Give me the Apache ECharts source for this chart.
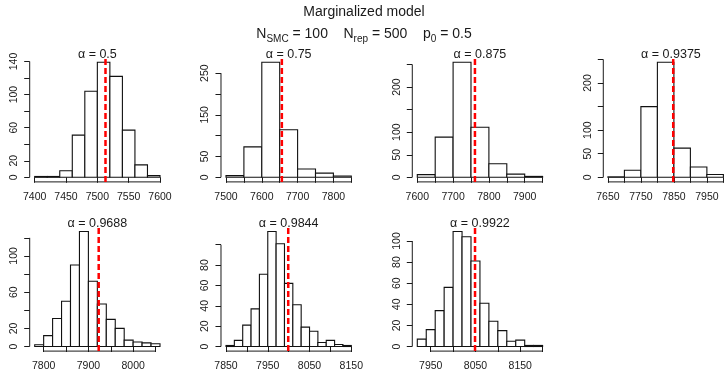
<!DOCTYPE html>
<html><head><meta charset="utf-8">
<script src="https://cdn.jsdelivr.net/npm/echarts@6/dist/echarts.min.js"></script>
<style>html,body{margin:0;padding:0;background:#fff}#c{width:728px;height:380px}</style>
</head><body><div id="c"></div>
<script>
// ---- data ----
const alphas = ['0.5', '0.75', '0.875', '0.9375', '0.9688', '0.9844', '0.9922'];
const means = [7513, 7656, 7761, 7848, 7923, 7999, 8049];

const breaks1 = [7400, 7420, 7440, 7460, 7480, 7500, 7520, 7540, 7560, 7580, 7600];
const counts1 = [1, 1, 8, 51, 104, 139, 122, 57, 15, 2];
const breaks2 = [7500, 7550, 7600, 7650, 7700, 7750, 7800, 7850];
const counts2 = [4, 73, 276, 114, 20, 10, 3];
const breaks3 = [7600, 7650, 7700, 7750, 7800, 7850, 7900, 7950];
const counts3 = [6, 89, 255, 111, 30, 7, 2];
const breaks4 = [7650, 7700, 7750, 7800, 7850, 7900, 7950, 8000];
const counts4 = [1, 15, 150, 244, 62, 22, 6];
const breaks5 = [7780, 7800, 7820, 7840, 7860, 7880, 7900, 7920, 7940, 7960, 7980, 8000, 8020, 8040, 8060];
const counts5 = [2, 12, 31, 50, 90, 127, 72, 47, 30, 20, 7, 5, 4, 3];
const breaks6 = [7850, 7870, 7890, 7910, 7930, 7950, 7970, 7990, 8010, 8030, 8050, 8070, 8090, 8110, 8130, 8150];
const counts6 = [1, 6, 21, 37, 71, 113, 101, 62, 41, 19, 15, 4, 6, 2, 1];
const breaks7 = [7920, 7940, 7960, 7980, 8000, 8020, 8040, 8060, 8080, 8100, 8120, 8140, 8160, 8180, 8200];
const counts7 = [7, 16, 34, 56, 109, 104, 81, 41, 24, 15, 5, 6, 1, 1];

const xTicks1 = [7400, 7450, 7500, 7550, 7600];
const xLabels1 = [7400, 7450, 7500, 7550, 7600];
const xTicks2 = [7500, 7550, 7600, 7650, 7700, 7750, 7800, 7850];
const xLabels2 = [7500, 7600, 7700, 7800];
const xTicks3 = [7600, 7650, 7700, 7750, 7800, 7850, 7900, 7950];
const xLabels3 = [7600, 7700, 7800, 7900];
const xTicks4 = [7650, 7700, 7750, 7800, 7850, 7900, 7950, 8000];
const xLabels4 = [7650, 7750, 7850, 7950];
const xTicks5 = [7800, 7850, 7900, 7950, 8000, 8050];
const xLabels5 = [7800, 7900, 8000];
const xTicks6 = [7850, 7900, 7950, 8000, 8050, 8100, 8150];
const xLabels6 = [7850, 7950, 8050, 8150];
const xTicks7 = [7950, 8000, 8050, 8100, 8150, 8200];
const xLabels7 = [7950, 8050, 8150];

const yTicks1 = [0, 20, 40, 60, 80, 100, 120, 140];
const yLabels1 = [0, 20, 60, 100, 140];
const yTicks2 = [0, 50, 100, 150, 200, 250];
const yLabels2 = [0, 50, 150, 250];
const yTicks3 = [0, 50, 100, 150, 200, 250];
const yLabels3 = [0, 50, 100, 200];
const yTicks4 = [0, 50, 100, 150, 200, 250];
const yLabels4 = [0, 50, 100, 200];
const yTicks5 = [0, 20, 40, 60, 80, 100, 120];
const yLabels5 = [0, 20, 60, 100];
const yTicks6 = [0, 20, 40, 60, 80, 100];
const yLabels6 = [0, 20, 40, 60, 80];
const yTicks7 = [0, 20, 40, 60, 80, 100];
const yLabels7 = [0, 20, 40, 60, 80, 100];

// ---- layout ----
const panels = [
  [breaks1, counts1, xTicks1, xLabels1, yTicks1, yLabels1],
  [breaks2, counts2, xTicks2, xLabels2, yTicks2, yLabels2],
  [breaks3, counts3, xTicks3, xLabels3, yTicks3, yLabels3],
  [breaks4, counts4, xTicks4, xLabels4, yTicks4, yLabels4],
  [breaks5, counts5, xTicks5, xLabels5, yTicks5, yLabels5],
  [breaks6, counts6, xTicks6, xLabels6, yTicks6, yLabels6],
  [breaks7, counts7, xTicks7, xLabels7, yTicks7, yLabels7]
];
const FONT = '"Liberation Sans", Arial, sans-serif';
const INK = '#1a1a1a';
const colDataLeft = [34.7, 226, 417.3, 608.3];
const dataW = 125.3;
const rowY0 = [177.3, 346.5];
const dataH = 115;
const PAD = 0.04;

const grids = [], xAxes = [], yAxes = [], series = [], graphics = [];

panels.forEach((p, i) => {
  const [breaks, counts, xT, xL, yT, yL] = p;
  const r = i < 4 ? 0 : 1, c = i < 4 ? i : i - 4;
  const gl = colDataLeft[c] - PAD * dataW, gw = dataW * (1 + 2 * PAD);
  const gt = rowY0[r] - dataH - PAD * dataH, gh = dataH * (1 + 2 * PAD);
  grids.push({left: gl, top: gt, width: gw, height: gh});
  const b0 = breaks[0], bN = breaks[breaks.length - 1], rng = bN - b0;
  const xMin = b0 - PAD * rng, xMax = bN + PAD * rng;
  const cMax = Math.max(...counts);
  const yMin = -PAD * cMax, yMax = cMax * (1 + PAD);
  xAxes.push({
    gridIndex: i, type: 'value', min: xMin, max: xMax,
    axisLine: {show: false}, splitLine: {show: false},
    axisTick: {show: true, customValues: xT, length: 5.5, lineStyle: {color: INK, width: 1}},
    axisLabel: {show: true, customValues: xL, margin: 10, fontSize: 10.5, color: INK, fontFamily: FONT,
      formatter: v => String(v)}
  });
  yAxes.push({
    gridIndex: i, type: 'value', min: yMin, max: yMax,
    axisLine: {show: false}, splitLine: {show: false},
    axisTick: {show: true, customValues: yT, length: 5.5, lineStyle: {color: INK, width: 1}},
    axisLabel: {show: true, customValues: yL, margin: 10, fontSize: 10.5, color: INK, fontFamily: FONT,
      rotate: 90, formatter: v => String(v)}
  });
  // bars
  const barData = counts.map((v, k) => [breaks[k], breaks[k + 1], v]);
  series.push({
    type: 'custom', xAxisIndex: i, yAxisIndex: i, clip: false, silent: true,
    encode: {x: [0, 1], y: 2},
    data: barData,
    renderItem: (params, api) => {
      const a = api.coord([api.value(0), api.value(2)]);
      const b = api.coord([api.value(1), 0]);
      return {type: 'rect', shape: {x: a[0], y: a[1], width: b[0] - a[0], height: b[1] - a[1]},
        style: {fill: '#fff', stroke: '#111', lineWidth: 1.1}};
    }
  });
  // axis lines (R style: from first to last tick) + mean line
  series.push({
    type: 'custom', xAxisIndex: i, yAxisIndex: i, clip: false, silent: true, z: 5,
    data: [[means[i]]],
    renderItem: (params, api) => {
      const xa = api.coord([xT[0], yMin]), xb = api.coord([xT[xT.length - 1], yMin]);
      const ya = api.coord([xMin, yT[0]]), yb = api.coord([xMin, yT[yT.length - 1]]);
      const m0 = api.coord([api.value(0), yMin]), m1 = api.coord([api.value(0), yMax]);
      return {type: 'group', children: [
        {type: 'line', shape: {x1: xa[0], y1: xa[1], x2: xb[0], y2: xb[1]}, style: {stroke: INK, lineWidth: 1}},
        {type: 'line', shape: {x1: ya[0], y1: ya[1], x2: yb[0], y2: yb[1]}, style: {stroke: INK, lineWidth: 1}},
        {type: 'line', shape: {x1: m0[0], y1: m0[1], x2: m1[0], y2: m1[1]},
          style: {stroke: '#ff0000', lineWidth: 2.5, lineDash: [6, 3]}}
      ]};
    }
  });
  graphics.push({type: 'text', x: gl + gw / 2, y: gt - 3.5,
    style: {text: 'α = ' + alphas[i], font: '12.5px ' + FONT, fill: INK, textAlign: 'center', textVerticalAlign: 'middle'}});
});

graphics.push({type: 'text', x: 364, y: 12,
  style: {text: 'Marginalized model', font: '14px ' + FONT, fill: INK, textAlign: 'center', textVerticalAlign: 'middle'}});
graphics.push({type: 'text', x: 364, y: 34,
  style: {text: 'N{s|SMC} = 100    N{s|rep} = 500    p{s|0} = 0.5', font: '14px ' + FONT, fill: INK,
    textAlign: 'center', textVerticalAlign: 'middle',
    rich: {s: {fontSize: 10, fontFamily: FONT, fill: INK, padding: [10, 0, 0, 0]}}}});

const chart = echarts.init(document.getElementById('c'), null, {renderer: 'canvas', width: 728, height: 380});
chart.setOption({
  animation: false,
  backgroundColor: '#fff',
  grid: grids, xAxis: xAxes, yAxis: yAxes, series: series, graphic: graphics
});
</script>
</body></html>
